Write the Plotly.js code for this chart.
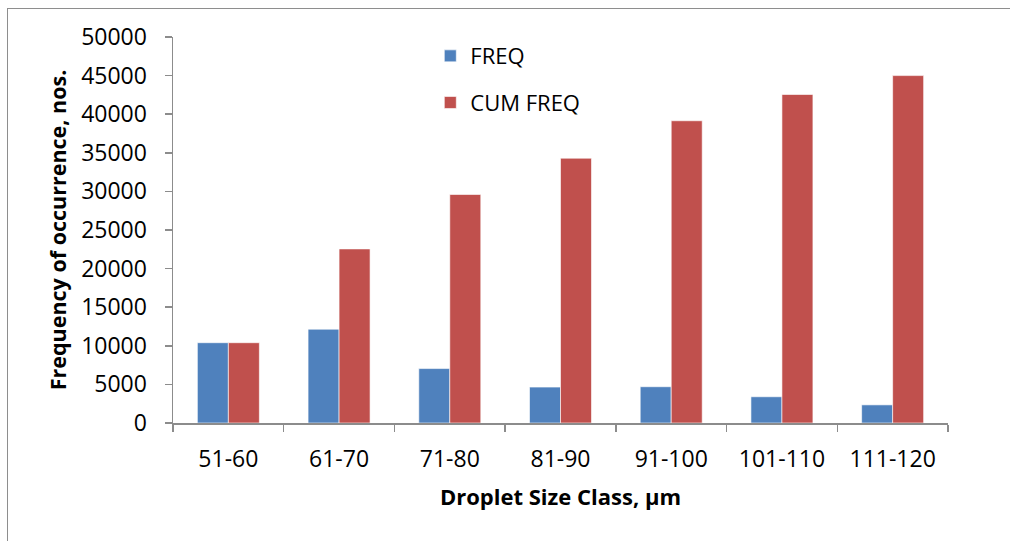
<!DOCTYPE html>
<html>
<head>
<meta charset="utf-8">
<script src="https://cdn.plot.ly/plotly-3.0.1.min.js"></script>
<style>
  html, body { margin: 0; padding: 0; background: #ffffff; }
  #wrap { position: relative; width: 1010px; height: 541px; }
  #chart { width: 1010px; height: 541px; }
  #frame {
    position: absolute; left: 7px; top: 8px; right: -2px; bottom: -2px;
    border-top: 1.5px solid #8e8e8e; border-left: 1.5px solid #8e8e8e;
    pointer-events: none;
  }
</style>
</head>
<body>
<div id="wrap">
  <div id="chart"></div>
  <div id="frame"></div>
</div>
<script>
// Droplet size classes (µm) and counts per class
const sizeClasses = ['51-60', '61-70', '71-80', '81-90', '91-100', '101-110', '111-120'];
const freq = [10400, 12150, 7050, 4650, 4700, 3400, 2350];
const cumFreq = [10400, 22550, 29600, 34300, 39150, 42550, 45000];
const yTicks = [0, 5000, 10000, 15000, 20000, 25000, 30000, 35000, 40000, 45000, 50000];

const FONT = '"Open Sans", "Liberation Sans", sans-serif';
const AXIS_GREY = '#8c8c8c';

const traces = [
  {
    type: 'bar', name: 'FREQ', x: sizeClasses, y: freq, legendgroup: 'a',
    marker: { color: '#4F81BD', line: { color: 'rgba(255,255,255,0.6)', width: 1 } },
    hoverinfo: 'x+y'
  },
  {
    type: 'bar', name: 'CUM FREQ', x: sizeClasses, y: cumFreq, legendgroup: 'b',
    marker: { color: '#C0504D', line: { color: 'rgba(255,255,255,0.6)', width: 1 } },
    hoverinfo: 'x+y'
  }
];

const layout = {
  width: 1010, height: 541,
  margin: { l: 173, r: 62, t: 37, b: 118 },
  paper_bgcolor: '#ffffff', plot_bgcolor: '#ffffff',
  font: { family: FONT, size: 24, color: '#000000' },
  barmode: 'group', bargap: 0.44, bargroupgap: 0,
  showlegend: true,
  legend: {
    x: 0.332, y: 1.005, xanchor: 'left', yanchor: 'top',
    font: { family: FONT, size: 22, color: '#000000' },
    traceorder: 'grouped', tracegroupgap: 15,
    bgcolor: 'rgba(0,0,0,0)', itemwidth: 30
  },
  xaxis: {
    type: 'category',
    showgrid: false, zeroline: false,
    showline: true, linecolor: AXIS_GREY, linewidth: 1.5,
    ticks: 'outside', tickson: 'boundaries', ticklen: 7, tickcolor: AXIS_GREY, tickwidth: 1.5,
    ticklabelstandoff: 15,
    tickfont: { family: FONT, size: 23 },
    title: {
      text: 'Droplet Size Class, µm', standoff: 16,
      font: { family: FONT, size: 22, weight: 'bold' }
    }
  },
  yaxis: {
    range: [0, 50000], tickvals: yTicks, ticktext: yTicks.map(String),
    showgrid: false, zeroline: false,
    showline: true, linecolor: AXIS_GREY, linewidth: 1.5,
    ticks: 'outside', ticklen: 7, tickcolor: AXIS_GREY, tickwidth: 1.5,
    ticklabelstandoff: 13,
    tickfont: { family: FONT, size: 23 },
    title: {
      text: 'Frequency of occurrence, nos.', standoff: 8,
      font: { family: FONT, size: 21.5, weight: 'bold' }
    }
  }
};

Plotly.newPlot('chart', traces, layout, { displayModeBar: false, staticPlot: true });
</script>
</body>
</html>
